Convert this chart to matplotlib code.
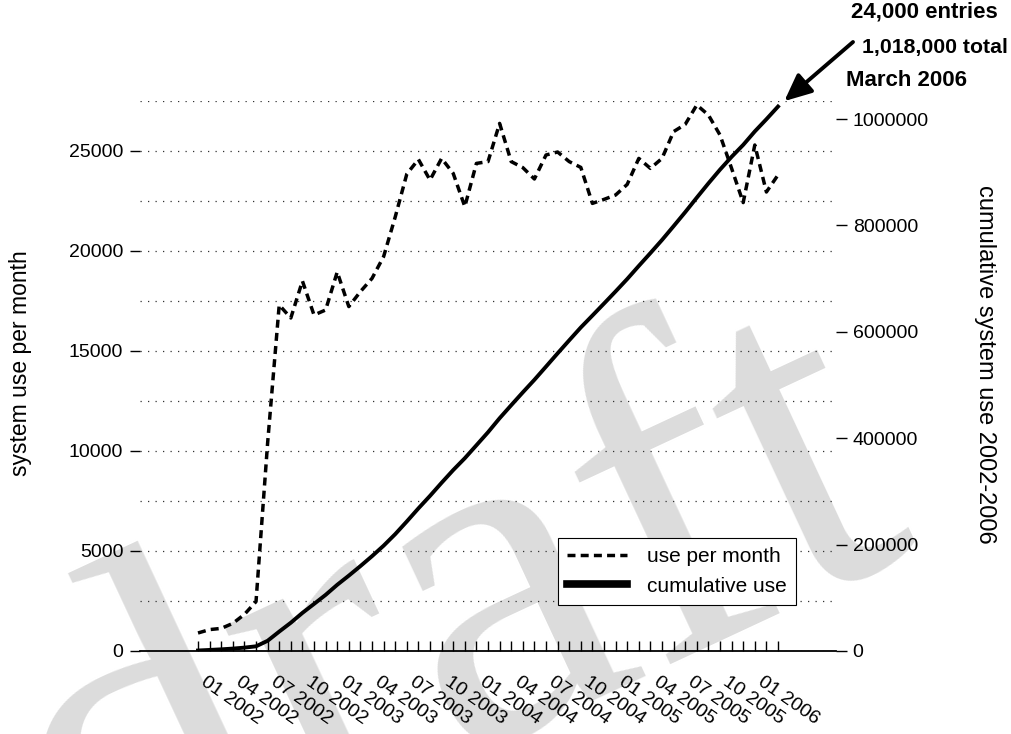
import matplotlib
matplotlib.use('Agg')
from matplotlib import pyplot as plt
from matplotlib.lines import Line2D
from matplotlib.ticker import MultipleLocator, StrMethodFormatter

plt.rcParams['font.family'] = ['Liberation Sans', 'DejaVu Sans']

# month index: 0 = Jan 2002 ... 50 = Mar 2006
months = list(range(51))

use_per_month = [900, 1070, 1130, 1380, 1830, 2470, 10400, 17300, 16650, 18500,
                 16800, 17050, 18950, 17220, 17970, 18630, 19720, 21700, 23850, 24580,
                 23550, 24630, 23880, 22220, 24380, 24470, 26380, 24470, 24170, 23600,
                 24800, 24950, 24470, 24180, 22380, 22580, 22800, 23330, 24630, 24130,
                 24630, 25970, 26330, 27300, 26800, 25800, 24130, 22420, 25300, 22950,
                 23800]

cumulative_use = [900, 1970, 3100, 4480, 6310, 8780, 19180, 36480, 53130, 71630,
                  88430, 105480, 124430, 141650, 159620, 178250, 197970, 219670, 243520, 268100,
                  291650, 316280, 340160, 362380, 386760, 411230, 437610, 462080, 486250, 509850,
                  534650, 559600, 584070, 608250, 630630, 653210, 676010, 699340, 723970, 748100,
                  772730, 798700, 825030, 852330, 879130, 904930, 929060, 951480, 976780, 999730,
                  1023530]

tick_pos = list(range(0, 51, 3))
tick_labels = ['01 2002', '04 2002', '07 2002', '10 2002', '01 2003', '04 2003',
               '07 2003', '10 2003', '01 2004', '04 2004', '07 2004', '10 2004',
               '01 2005', '04 2005', '07 2005', '10 2005', '01 2006']

dash = (0, (2.3, 1.5))

fig = plt.figure(figsize=(10.11, 7.34), dpi=100)
fig.patch.set_facecolor('white')

# watermark behind everything
fig.text(0.45, 0.145, 'draft', fontsize=350, family='Liberation Serif',
         color='#dcdcdc', rotation=25, ha='center', va='center', zorder=-5)

ax = fig.add_axes([0.1385, 0.1131, 0.6884, 0.7493])
ax.patch.set_visible(False)
ax.plot(months, use_per_month, color='black', lw=2.5, ls=dash)
ax.set_xlim(-5, 55)
ax.set_ylim(0, 27500)
ax.yaxis.set_major_locator(MultipleLocator(5000))
ax.yaxis.set_minor_locator(MultipleLocator(2500))
ax.grid(True, which='both', axis='y', ls=(0, (1, 5)), lw=0.9, color='#333333')
ax.tick_params(axis='y', which='major', direction='out', length=7, width=1, pad=5, labelsize=14)
ax.tick_params(axis='y', which='minor', length=0)

ax.set_xticks(tick_pos)
ax.set_xticklabels(tick_labels, rotation=-35, ha='left', va='top')
ax.set_xticks(months, minor=True)
ax.tick_params(axis='x', which='both', direction='in', length=7, width=1, pad=16, labelsize=14)

for s in ['top', 'left', 'right']:
    ax.spines[s].set_visible(False)
ax.spines['bottom'].set_linewidth(1.3)

ax.set_ylabel('system use per month', fontsize=16.5, va='center', ha='center')
ax.yaxis.set_label_coords(-0.1724, 0.524)

ax2 = ax.twinx()
ax2.patch.set_visible(False)
ax2.plot(months, cumulative_use, color='black', lw=2.8)
ax2.set_ylim(0, 1034000)
ax2.yaxis.set_major_locator(MultipleLocator(200000))
ax2.yaxis.set_major_formatter(StrMethodFormatter('{x:.0f}'))
ax2.tick_params(axis='y', direction='out', length=8, width=1, pad=4, labelsize=14)
for s in ax2.spines.values():
    s.set_visible(False)
ax2.set_ylabel('cumulative system use 2002-2006', fontsize=17, rotation=270,
               va='center', ha='center')
ax2.yaxis.set_label_coords(1.214, 0.522)

handles = [Line2D([], [], color='black', lw=2.5, ls=dash),
           Line2D([], [], color='black', lw=5.5)]
leg = ax2.legend(handles, ['use per month', 'cumulative use'], loc='lower right',
                 bbox_to_anchor=(0.943, 0.0836), borderaxespad=0, fontsize=15,
                 handlelength=2.9, handletextpad=0.95, fancybox=False, framealpha=1,
                 edgecolor='black', borderpad=0.45, labelspacing=0.5)
leg.get_frame().set_linewidth(0.8)

# arrow pointing at the last cumulative value
ax2.annotate('', xy=(months[-1], cumulative_use[-1]), xytext=(853, 692),
             textcoords='figure pixels',
             arrowprops=dict(arrowstyle='-|>,head_length=0.55,head_width=0.25',
                             color='black', lw=2.8, mutation_scale=30,
                             shrinkA=0, shrinkB=6))
fig.text(851 / 1011, 1 - 12 / 734, '24,000 entries', fontsize=16, fontweight='bold',
         ha='left', va='center')
fig.text(862 / 1011, 1 - 47 / 734, '1,018,000 total', fontsize=15.3, fontweight='bold',
         ha='left', va='center')
fig.text(846 / 1011, 1 - 80 / 734, 'March 2006', fontsize=16, fontweight='bold',
         ha='left', va='center')

fig.savefig('out.png', dpi=100)
